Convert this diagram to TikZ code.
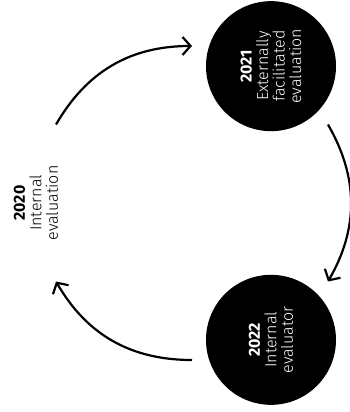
\documentclass[tikz,border=0pt]{standalone}
\usepackage{fontspec}
\setmainfont{Fira Sans}[UprightFont=* Light, BoldFont=* Bold]
\usetikzlibrary{positioning, arrows.meta}

\begin{document}
\begin{tikzpicture}[
        x=1pt, y=1pt,
        phase/.style={circle, fill=black, text=white, minimum size=130pt, inner sep=0pt, rotate=90, align=center, font=\fontsize{16}{16.5}\selectfont},
        yearlabel/.style={rotate=90, align=center, font=\fontsize{16}{16.5}\selectfont},
        cyclearrow/.style={line width=2.2pt, -{Straight Barb[length=8pt, width=18pt]}}
    ]
    \useasboundingbox (-192,-209) rectangle (158,203);

    % Knoten
    \node[yearlabel] (int2020) at (180:156) {\textbf{2020}\\Internal\\evaluation};
    \node[phase] (ext2021) at (60:158) {\textbf{2021}\\Externally\\facilitated\\evaluation};
    \node[phase] (int2022) at (-60:158) {\textbf{2022}\\Internal\\evaluator};

    % Pfeilenden
    \coordinate (a1s) at (150:157);
    \coordinate (a1e) at (90:157);
    \coordinate (a2s) at (30:157);
    \coordinate (a2e) at (-30:157);
    \coordinate (a3s) at (-90:157);
    \coordinate (a3e) at (-150:157);

    % Pfeile
    \draw[cyclearrow] (a1s) to[bend left=30] (a1e);
    \draw[cyclearrow] (a2s) to[bend left=30] (a2e);
    \draw[cyclearrow] (a3s) to[bend left=30] (a3e);

\end{tikzpicture}
\end{document}
